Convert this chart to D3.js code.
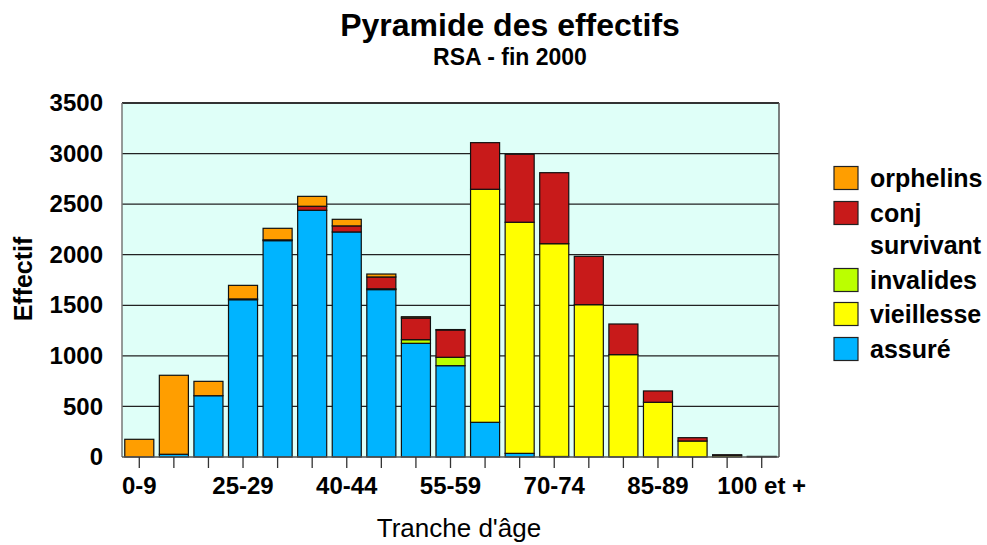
<!DOCTYPE html>
<style>
body { margin: 0; background: #fff; }
text { font-family: "Liberation Sans", Arial, sans-serif; }
.axis .domain { display: none; }
</style>
<svg width="987" height="545"></svg>
<script src="https://d3js.org/d3.v7.min.js"></script>
<script>

var tranches = ["0-9", "10-19", "20-24", "25-29", "30-34", "35-39", "40-44", "45-49", "50-54",
  "55-59", "60-64", "65-69", "70-74", "75-79", "80-84", "85-89", "90-94", "95-99", "100 et +"];
var assure     = [0, 27, 606, 1555, 2139, 2439, 2225, 1655, 1124, 903, 343, 36, 5, 0, 0, 0, 0, 0, 0];
var vieillesse = [0, 0, 0, 0, 0, 0, 0, 0, 0, 0, 2304, 2285, 2104, 1506, 1012, 541, 158, 17, 6];
var invalides  = [0, 0, 0, 0, 0, 0, 0, 8, 36, 83, 0, 0, 0, 0, 0, 0, 0, 0, 0];
var conj       = [0, 0, 0, 8, 8, 40, 60, 117, 214, 270, 461, 672, 702, 478, 303, 112, 33, 5, 0];
var orphelins  = [175, 781, 142, 134, 114, 98, 65, 29, 13, 4, 0, 0, 0, 0, 0, 0, 0, 0, 0];
var yTicks = [0, 500, 1000, 1500, 2000, 2500, 3000, 3500];
var shownLabels = ["0-9", "25-29", "40-44", "55-59", "70-74", "85-89", "100 et +"];

var series = [
  {key: "assure", name: "assuré", color: "#00b4ff", values: assure},
  {key: "vieillesse", name: "vieillesse", color: "#ffff00", values: vieillesse},
  {key: "invalides", name: "invalides", color: "#bbff00", values: invalides},
  {key: "conj", name: "conj survivant", color: "#c81a1a", values: conj},
  {key: "orphelins", name: "orphelins", color: "#ff9e00", values: orphelins}
];

var data = tranches.map(function(t, i) {
  var d = {tranche: t};
  series.forEach(function(s) { d[s.key] = s.values[i]; });
  return d;
});

var svg = d3.select("svg"),
    plotL = 122, plotR = 779, plotT = 103, plotB = 457;

var x = d3.scaleBand().domain(tranches).range([plotL, plotR]).paddingInner(0.16).paddingOuter(0.08);
var y = d3.scaleLinear().domain([0, 3500]).range([plotB, plotT]);

// plot background
svg.append("rect")
    .attr("x", plotL).attr("y", plotT)
    .attr("width", plotR - plotL).attr("height", plotB - plotT)
    .attr("fill", "#dffff8");

// grid
svg.append("g").selectAll("line")
  .data(yTicks.slice(1))
  .enter().append("line")
    .attr("x1", plotL).attr("x2", plotR)
    .attr("y1", function(d) { return y(d); })
    .attr("y2", function(d) { return y(d); })
    .attr("stroke", function(d) { return d == 3500 ? "#333" : "#222"; })
    .attr("stroke-width", function(d) { return d == 3500 ? 2 : 1.2; });

svg.append("line")
    .attr("x1", plotR).attr("x2", plotR).attr("y1", plotT).attr("y2", plotB)
    .attr("stroke", "#555").attr("stroke-width", 1.5);
svg.append("line")
    .attr("x1", plotL).attr("x2", plotL).attr("y1", plotT).attr("y2", plotB)
    .attr("stroke", "#777").attr("stroke-width", 1.5);

var stack = d3.stack().keys(series.map(function(s) { return s.key; }));
var layers = stack(data);

svg.append("g")
  .selectAll("g")
  .data(layers)
  .enter().append("g")
    .attr("fill", function(d, i) { return series[i].color; })
  .selectAll("rect")
  .data(function(d) { return d.filter(function(p) { return p[1] - p[0] > 0; }); })
  .enter().append("rect")
    .attr("x", function(d) { return x(d.data.tranche); })
    .attr("y", function(d) { return y(d[1]); })
    .attr("width", x.bandwidth())
    .attr("height", function(d) { return y(d[0]) - y(d[1]); })
    .attr("stroke", "#111")
    .attr("stroke-width", 1.2);

// x axis line + ticks
svg.append("line")
    .attr("x1", plotL).attr("x2", plotR).attr("y1", plotB).attr("y2", plotB)
    .attr("stroke", "#555").attr("stroke-width", 1.5);

var xAxis = svg.append("g")
    .attr("class", "axis")
    .attr("transform", "translate(0," + plotB + ")")
    .call(d3.axisBottom(x).tickSize(11).tickPadding(9)
      .tickFormat(function(d) { return shownLabels.indexOf(d) >= 0 ? d : ""; }));
xAxis.selectAll(".tick line").attr("stroke", "#333").attr("stroke-width", 1.3);
xAxis.selectAll("text")
    .attr("font-size", 24).attr("font-weight", "bold").attr("fill", "#000")
    .attr("font-family", "Liberation Sans, Arial, sans-serif");

var yAxis = svg.append("g")
    .attr("class", "axis")
    .attr("transform", "translate(" + plotL + ",0)")
    .call(d3.axisLeft(y).tickValues(yTicks).tickFormat(d3.format("d")).tickSize(0).tickPadding(19));
yAxis.selectAll("text")
    .attr("font-size", 24).attr("font-weight", "bold").attr("fill", "#000")
    .attr("font-family", "Liberation Sans, Arial, sans-serif");

// titles
svg.append("text")
    .attr("x", 510).attr("y", 36)
    .attr("text-anchor", "middle")
    .attr("font-size", 32).attr("font-weight", "bold")
    .text("Pyramide des effectifs");
svg.append("text")
    .attr("x", 510).attr("y", 65)
    .attr("text-anchor", "middle")
    .attr("font-size", 23).attr("font-weight", "bold")
    .text("RSA - fin 2000");

svg.append("text")
    .attr("transform", "translate(32,279) rotate(-90)")
    .attr("text-anchor", "middle")
    .attr("font-size", 25).attr("font-weight", "bold")
    .text("Effectif");

svg.append("text")
    .attr("x", 459).attr("y", 537)
    .attr("text-anchor", "middle")
    .attr("font-size", 26)
    .text("Tranche d'âge");

// legend, top to bottom
var legendItems = series.slice().reverse();
var rowY = [178, 213, 280, 314, 349];

var legend = svg.append("g")
  .selectAll("g")
  .data(legendItems)
  .enter().append("g")
    .attr("transform", function(d, i) { return "translate(834," + rowY[i] + ")"; });

legend.append("rect")
    .attr("x", 0).attr("y", -11.5)
    .attr("width", 24).attr("height", 23)
    .attr("fill", function(d) { return d.color; })
    .attr("stroke", "#222").attr("stroke-width", 1.2);

legend.each(function(d) {
  var words = d.name == "conj survivant" ? ["conj", "survivant"] : [d.name];
  var t = d3.select(this).append("text")
      .attr("x", 36).attr("y", 0)
      .attr("font-size", 25).attr("font-weight", "bold");
  words.forEach(function(w, j) {
    t.append("tspan").attr("x", 36).attr("dy", j == 0 ? "0.35em" : 32).text(w);
  });
});

</script>
